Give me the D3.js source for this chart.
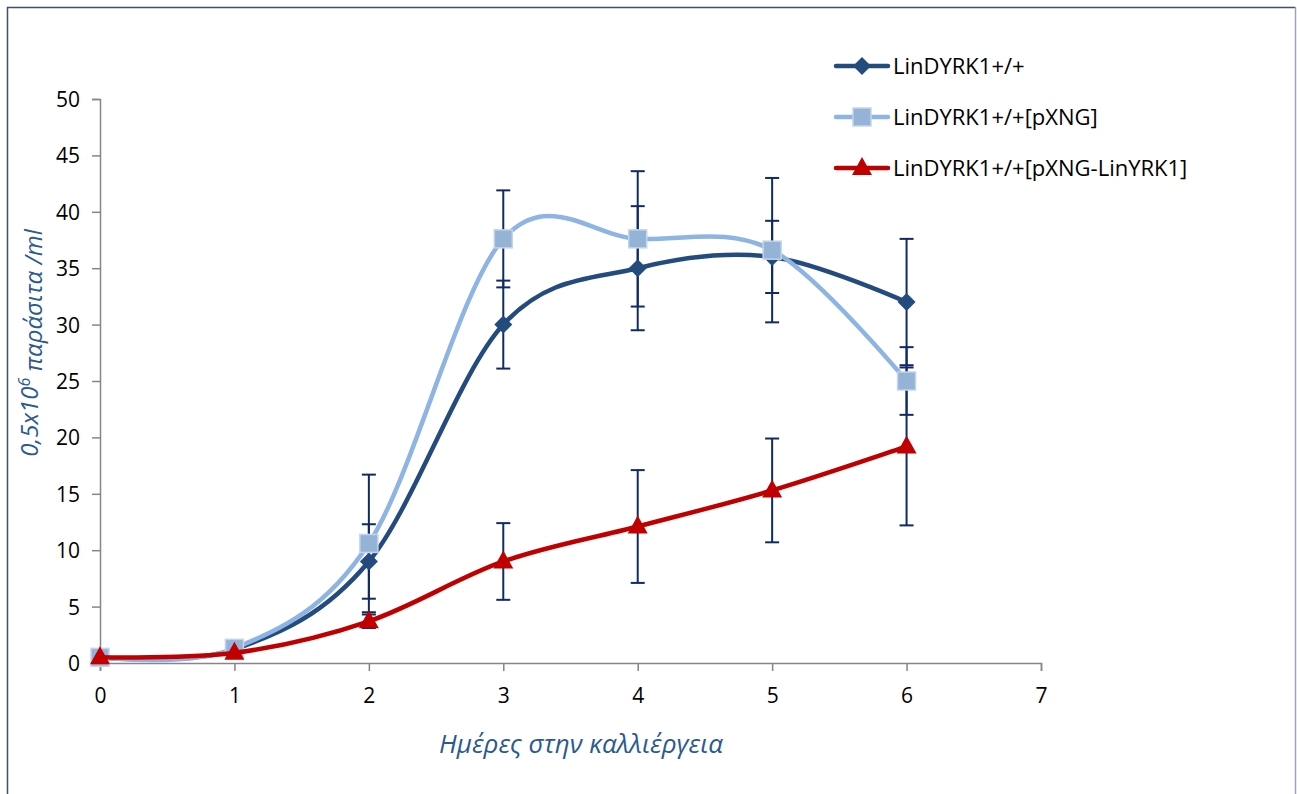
<!DOCTYPE html>
<html>
<head>
<meta charset="utf-8">
<script src="https://cdn.jsdelivr.net/npm/d3@7"></script>
<style>
  html, body { margin: 0; padding: 0; background: #fff; }
  svg { display: block; font-family: "Open Sans", "Noto Sans", sans-serif; }
</style>
</head>
<body>
<div id="chart"></div>
<script>
// days in culture
const days = [0, 1, 2, 3, 4, 5, 6];

// series values (0,5x10^6 parasites / ml)
const wildType = [0.5, 1.2, 9.0, 30.0, 35.0, 36.0, 32.0];
const wildTypeErr = [0, 0, 3.3, 3.9, 5.5, 3.2, 5.6];

const pXNG = [0.5, 1.3, 10.6, 37.6, 37.6, 36.6, 25.0];
const pXNGErr = [0, 0, 6.1, 4.3, 6.0, 6.4, 3.0];

const pXNGLin = [0.5, 0.9, 3.7, 9.0, 12.1, 15.3, 19.2];
const pXNGLinErr = [0, 0, 0.6, 3.4, 5.0, 4.6, 7.0];

const seriesNames = ["LinDYRK1+/+", "LinDYRK1+/+[pXNG]", "LinDYRK1+/+[pXNG-LinYRK1]"];

const xTicks = [0, 1, 2, 3, 4, 5, 6, 7];
const yTicks = [0, 5, 10, 15, 20, 25, 30, 35, 40, 45, 50];

const width = 1297, height = 794;

const series = [
  { name: seriesNames[0], values: wildType, err: wildTypeErr, color: "#234b7e", marker: "diamond" },
  { name: seriesNames[1], values: pXNG, err: pXNGErr, color: "#8db4e2", marker: "square" },
  { name: seriesNames[2], values: pXNGLin, err: pXNGLinErr, color: "#c00000", marker: "triangle" }
];

const svg = d3.select("#chart").append("svg")
  .attr("width", width)
  .attr("height", height);

// outer frame
svg.append("path")
  .attr("d", "M7.5,800 V7.5 H1295.5")
  .attr("fill", "none")
  .attr("stroke", "#3f5068")
  .attr("stroke-width", 1.5);
svg.append("line")
  .attr("x1", 1295.5).attr("x2", 1295.5)
  .attr("y1", 7.5).attr("y2", 800)
  .attr("stroke", "#9aa6b8")
  .attr("stroke-width", 1.5);

const x = d3.scaleLinear().domain([0, 7]).range([100, 1041]);
const y = d3.scaleLinear().domain([0, 50]).range([663, 99]);

// axes
const axisColor = "#868686";
const xAxis = svg.append("g")
  .attr("transform", "translate(0," + y(0) + ")")
  .call(d3.axisBottom(x).tickValues(xTicks).tickSize(8).tickPadding(17).tickFormat(d3.format("d")));
const yAxis = svg.append("g")
  .attr("transform", "translate(" + x(0) + ",0)")
  .call(d3.axisLeft(y).tickValues(yTicks).tickSize(8).tickPadding(12).tickFormat(d3.format("d")));

[xAxis, yAxis].forEach(g => {
  g.select(".domain").attr("stroke", axisColor).attr("stroke-width", 1.5);
  g.selectAll(".tick line").attr("stroke", axisColor).attr("stroke-width", 1.5);
  g.selectAll(".tick text")
    .attr("fill", "#000")
    .style("font-size", "21px")
    .style("font-family", "'Open Sans', 'Noto Sans', sans-serif");
});
yAxis.selectAll(".tick text").attr("dy", "0.36em");

// axis titles
svg.append("text")
  .attr("x", 581)
  .attr("y", 753)
  .attr("text-anchor", "middle")
  .attr("fill", "#2a5a8f")
  .style("font-size", "26px")
  .style("font-style", "italic")
  .text("Ημέρες στην καλλιέργεια");

const yTitle = svg.append("text")
  .attr("transform", "translate(38,343) rotate(-90)")
  .attr("text-anchor", "middle")
  .attr("fill", "#2a5a8f")
  .style("font-size", "24px")
  .style("font-style", "italic");
yTitle.append("tspan").text("0,5x10");
yTitle.append("tspan").attr("dy", "-0.5em").style("font-size", "16px").text("6");
yTitle.append("tspan").attr("dy", "0.5em").text(" παράσιτα /ml");

// error bars
const errColor = "#0f2a66";
const capHalf = 7;
series.forEach(s => {
  const g = svg.append("g").attr("class", "errors");
  s.values.forEach((v, i) => {
    const e = s.err[i];
    if (!e) return;
    const cx = x(days[i]);
    g.append("line")
      .attr("x1", cx).attr("x2", cx)
      .attr("y1", y(v - e)).attr("y2", y(v + e))
      .attr("stroke", errColor).attr("stroke-width", 2);
    [v - e, v + e].forEach(b => {
      g.append("line")
        .attr("x1", cx - capHalf).attr("x2", cx + capHalf)
        .attr("y1", y(b)).attr("y2", y(b))
        .attr("stroke", errColor).attr("stroke-width", 2);
    });
  });
});

// smoothed lines
const line = d3.line()
  .x((d, i) => x(days[i]))
  .y(d => y(d))
  .curve(d3.curveCardinal.tension(0));

function drawMarker(g, type, cx, cy, color) {
  if (type === "diamond") {
    g.append("path")
      .attr("d", "M" + cx + "," + (cy - 9) + " L" + (cx + 9) + "," + cy + " L" + cx + "," + (cy + 9) + " L" + (cx - 9) + "," + cy + "Z")
      .attr("fill", color);
  } else if (type === "square") {
    g.append("rect")
      .attr("x", cx - 9).attr("y", cy - 9)
      .attr("width", 18).attr("height", 18)
      .attr("fill", "#95b3d7")
      .attr("stroke", "#c3d5ea")
      .attr("stroke-width", 1.5);
  } else {
    g.append("path")
      .attr("d", "M" + cx + "," + (cy - 11) + " L" + (cx + 10) + "," + (cy + 7) + " L" + (cx - 10) + "," + (cy + 7) + "Z")
      .attr("fill", color);
  }
}

series.forEach(s => {
  const g = svg.append("g").attr("class", "series");
  g.append("path")
    .attr("d", line(s.values))
    .attr("fill", "none")
    .attr("stroke", s.color)
    .attr("stroke-width", 4.5)
    .attr("stroke-linecap", "round");
  s.values.forEach((v, i) => drawMarker(g, s.marker, x(days[i]), y(v), s.color));
});

// legend
const legend = svg.append("g").attr("class", "legend");
series.forEach((s, i) => {
  const ly = 66 + i * 51;
  const row = legend.append("g");
  row.append("line")
    .attr("x1", 836).attr("x2", 888)
    .attr("y1", ly).attr("y2", ly)
    .attr("stroke", s.color)
    .attr("stroke-width", 4.5)
    .attr("stroke-linecap", "round");
  drawMarker(row, s.marker, 862, ly, s.color);
  row.append("text")
    .attr("x", 893)
    .attr("y", ly)
    .attr("dy", "0.36em")
    .attr("fill", "#000")
    .style("font-size", "22px")
    .text(s.name);
});
</script>
</body>
</html>
